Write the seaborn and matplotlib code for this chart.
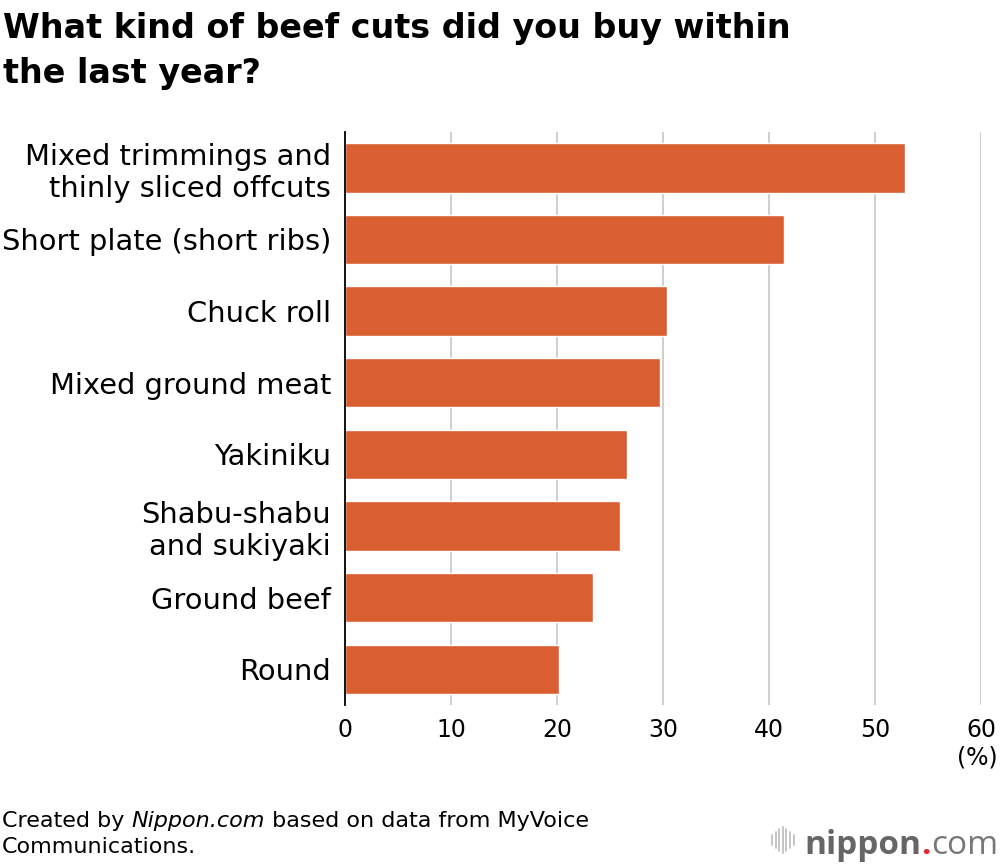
import matplotlib
matplotlib.use("Agg")
import matplotlib.pyplot as plt
import seaborn as sns
import pandas as pd
from matplotlib.offsetbox import TextArea, HPacker, AnchoredOffsetbox

categories = [
    "Mixed trimmings and\nthinly sliced offcuts",
    "Short plate (short ribs)",
    "Chuck roll",
    "Mixed ground meat",
    "Yakiniku",
    "Shabu-shabu\nand sukiyaki",
    "Ground beef",
    "Round",
]
values = [52.8, 41.4, 30.4, 29.7, 26.6, 25.9, 23.4, 20.2]
xticks = [0, 10, 20, 30, 40, 50, 60]

sns.set_theme(style="white")
plt.rcParams['font.family'] = ['DejaVu Sans']
plt.rcParams['text.color'] = 'black'
plt.rcParams['xtick.color'] = 'black'
plt.rcParams['ytick.color'] = 'black'

df = pd.DataFrame({"cut": categories, "pct": values})

fig = plt.figure(figsize=(10, 8.64), dpi=100)
ax = fig.add_axes([0.345, 0.184, 0.636, 0.6632])

sns.barplot(data=df, x="pct", y="cut", orient="h", color="#D95F33",
            saturation=1, width=0.69, ax=ax, zorder=3)

ax.set_xlim(0, 60)
ax.set_ylim(7.5, -0.5)
ax.set_xticks(xticks)
ax.set_xticklabels([str(t) for t in xticks], fontsize=17)
ax.tick_params(axis='x', length=0, pad=9, labelcolor='black')
ax.tick_params(axis='y', length=0, pad=10, labelsize=20.8, labelcolor='black')
for lbl in ax.get_yticklabels():
    lbl.set_linespacing(1.2)
ax.set_xlabel("")
ax.set_ylabel("")
ax.grid(axis='x', color='#cccccc', linewidth=1.3, zorder=0)
ax.grid(axis='y', visible=False)
for s in ['top', 'right', 'bottom']:
    ax.spines[s].set_visible(False)
ax.spines['left'].set_color('black')
ax.spines['left'].set_linewidth(1.3)
ax.spines['left'].set_zorder(4)

fig.text(0.998, 1 - 746/864, "(%)", ha='right', va='top', fontsize=17)

fig.text(0.003, 1 - 38/864, "What kind of beef cuts did you buy within",
         ha='left', va='baseline', fontsize=24, fontweight='bold')
fig.text(0.003, 1 - 83/864, "the last year?",
         ha='left', va='baseline', fontsize=24, fontweight='bold')

fs = 16
ta1 = TextArea("Created by ", textprops=dict(fontsize=fs, color='black'))
ta2 = TextArea("Nippon.com", textprops=dict(fontsize=fs, color='black', style='italic'))
ta3 = TextArea(" based on data from MyVoice", textprops=dict(fontsize=fs, color='black'))
box = HPacker(children=[ta1, ta2, ta3], align="baseline", pad=0, sep=0)
ab = AnchoredOffsetbox(loc='lower left', child=box, pad=0, frameon=False,
                       bbox_to_anchor=(0.002, 1 - 831/864), bbox_transform=fig.transFigure, borderpad=0)
fig.add_artist(ab)
fig.text(0.002, 1 - 853/864, "Communications.", ha='left', va='baseline', fontsize=fs)

# logo
lg1 = TextArea("nippon", textprops=dict(fontsize=24, color='#666666', fontweight='bold', family='Open Sans'))
lg2 = TextArea(".", textprops=dict(fontsize=24, color='#e8262d', fontweight='bold', family='Open Sans'))
lg3 = TextArea("com", textprops=dict(fontsize=24, color='#777777', family='Open Sans'))
lbox = HPacker(children=[lg1, lg2, lg3], align="baseline", pad=0, sep=0)
lab = AnchoredOffsetbox(loc='lower right', child=lbox, pad=0, frameon=False,
                        bbox_to_anchor=(0.998, 1 - 862/864), bbox_transform=fig.transFigure, borderpad=0)
fig.add_artist(lab)
heights = [0.012, 0.018, 0.026, 0.030, 0.026, 0.018, 0.012]
for i, h in enumerate(heights):
    xx = 0.772 + i * 0.0036
    fig.add_artist(plt.Line2D([xx, xx], [1 - 840/864 - h / 2, 1 - 840/864 + h / 2],
                              transform=fig.transFigure, color='#bbbbbb', linewidth=1.2))

fig.savefig("out.png", dpi=100)
